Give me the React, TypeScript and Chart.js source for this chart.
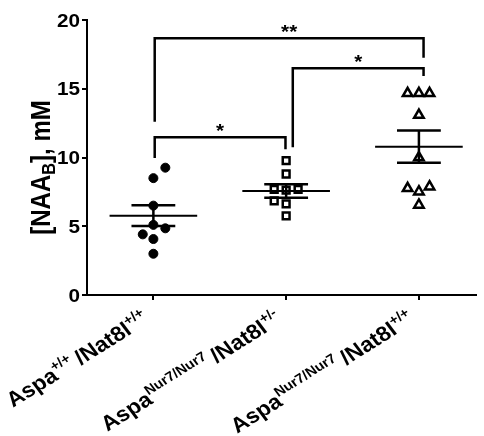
import React, { useEffect, useRef } from 'react';
import { Chart, registerables } from 'chart.js';

Chart.register(...registerables);

// ---------- data ----------
const categories = [1, 2, 3];
const xLabelParts: [string, 'n' | 'sup'][][] = [
  [['Aspa', 'n'], ['+/+', 'sup'], ['\u2009/Nat8l', 'n'], ['+/+', 'sup']],
  [['Aspa', 'n'], ['Nur7/Nur7', 'sup'], ['\u2009/Nat8l', 'n'], ['+/-', 'sup']],
  [['Aspa', 'n'], ['Nur7/Nur7', 'sup'], ['\u2009/Nat8l', 'n'], ['+/+', 'sup']],
];
const g1Values = [9.26, 8.5, 6.5, 5.1, 4.85, 4.41, 4.07, 3.0];
const g1Jitter = [0.09, 0, 0, 0, 0.09, -0.08, 0, 0];
const g2Values = [9.77, 8.8, 7.68, 7.62, 7.68, 6.84, 6.62, 5.75];
const g2Jitter = [0, 0, -0.09, 0, 0.09, -0.09, 0, 0];
const g3Values = [14.67, 14.67, 14.67, 13.09, 10.0, 7.76, 7.51, 7.88, 6.55];
const g3Jitter = [-0.085, 0, 0.08, 0, 0, -0.085, 0, 0.08, 0];
const means = [5.77, 7.56, 10.79];
const sems = [0.76, 0.49, 1.17];
const yTicks = [0, 5, 10, 15, 20];
const bracketFrom = [1.01, 2.05, 1.01];
const bracketTo = [3.035, 3.035, 1.995];
const bracketTop = [18.67, 16.49, 11.47];
const bracketFromEnd = [12.6, 10.74, 9.96];
const bracketToEnd = [17.26, 15.93, 10.6];
const bracketLabels = ['**', '*', '*'];
const yTitleParts: [string, 'n' | 'sub'][] = [['[NAA', 'n'], ['B', 'sub'], ['], mM', 'n']];

// ---------- style ----------
const FONT = '"Liberation Sans", Arial, Helvetica, sans-serif';
const SX = 1.15;

function pts(values: number[], jit: number[], cat: number) {
  return values.map((v, i) => ({ x: cat + jit[i], y: v }));
}

function partFont(kind: string, fs: number, ratio: number) {
  const s = kind === 'n' ? fs : fs * ratio;
  return `bold ${s}px ${FONT}`;
}

function measureRich(ctx: CanvasRenderingContext2D, parts: [string, string][], fs: number, ratio: number) {
  let w = 0;
  for (const [t, k] of parts) {
    ctx.font = partFont(k, fs, ratio);
    w += ctx.measureText(t).width;
  }
  return w;
}

function drawRich(ctx: CanvasRenderingContext2D, parts: [string, string][], fs: number, ratio: number, x0: number) {
  let x = x0;
  ctx.textBaseline = 'alphabetic';
  ctx.textAlign = 'left';
  for (const [t, k] of parts) {
    ctx.font = partFont(k, fs, ratio);
    const dy = k === 'sup' ? -fs * 0.42 : k === 'sub' ? fs * 0.18 : 0;
    ctx.fillText(t, x, dy);
    x += ctx.measureText(t).width;
  }
}

function drawCenteredInk(ctx: CanvasRenderingContext2D, text: string, cx: number, cy: number, font: string, align: 'center' | 'right') {
  ctx.save();
  ctx.font = font;
  ctx.textBaseline = 'alphabetic';
  ctx.textAlign = align;
  const m = ctx.measureText(text);
  const asc = m.actualBoundingBoxAscent;
  const desc = m.actualBoundingBoxDescent;
  ctx.translate(cx, cy + (asc - desc) / 2);
  ctx.scale(SX, 1);
  ctx.fillText(text, 0, 0);
  ctx.restore();
}

const overlay = {
  id: 'overlay',
  afterDatasetsDraw(chart: any) {
    const ctx: CanvasRenderingContext2D = chart.ctx;
    const xs = chart.scales.x;
    const ys = chart.scales.y;
    ctx.save();
    ctx.strokeStyle = '#000';
    ctx.lineCap = 'butt';
    categories.forEach((c, i) => {
      const m = means[i];
      const s = sems[i];
      const ym = ys.getPixelForValue(m);
      const yu = ys.getPixelForValue(m + s);
      const yl = ys.getPixelForValue(m - s);
      ctx.lineWidth = 2;
      ctx.beginPath();
      ctx.moveTo(xs.getPixelForValue(c - 0.33), ym);
      ctx.lineTo(xs.getPixelForValue(c + 0.33), ym);
      ctx.stroke();
      ctx.lineWidth = 2.5;
      ctx.beginPath();
      ctx.moveTo(xs.getPixelForValue(c - 0.165), yu);
      ctx.lineTo(xs.getPixelForValue(c + 0.165), yu);
      ctx.moveTo(xs.getPixelForValue(c - 0.165), yl);
      ctx.lineTo(xs.getPixelForValue(c + 0.165), yl);
      ctx.moveTo(xs.getPixelForValue(c), yu);
      ctx.lineTo(xs.getPixelForValue(c), yl);
      ctx.stroke();
    });
    ctx.restore();
  },
  afterDraw(chart: any) {
    const ctx: CanvasRenderingContext2D = chart.ctx;
    const xs = chart.scales.x;
    const ys = chart.scales.y;
    const area = chart.chartArea;
    ctx.save();
    ctx.fillStyle = '#000';
    ctx.strokeStyle = '#000';

    ctx.lineWidth = 2.5;
    ctx.lineJoin = 'miter';
    bracketLabels.forEach((lab, i) => {
      const x1 = xs.getPixelForValue(bracketFrom[i]);
      const x2 = xs.getPixelForValue(bracketTo[i]);
      const yt = ys.getPixelForValue(bracketTop[i]);
      ctx.beginPath();
      ctx.moveTo(x1, ys.getPixelForValue(bracketFromEnd[i]));
      ctx.lineTo(x1, yt);
      ctx.lineTo(x2, yt);
      ctx.lineTo(x2, ys.getPixelForValue(bracketToEnd[i]));
      ctx.stroke();
      drawCenteredInk(ctx, lab, (x1 + x2) / 2, yt - 10, `bold 18px ${FONT}`, 'center');
    });

    yTicks.forEach((v) => {
      drawCenteredInk(ctx, String(v), area.left - 7, ys.getPixelForValue(v), `bold 18px ${FONT}`, 'right');
    });

    {
      const fs = 24;
      ctx.save();
      ctx.translate(50, (area.top + area.bottom) / 2 + 10);
      ctx.scale(SX, 1);
      ctx.rotate(-Math.PI / 2);
      const w = measureRich(ctx, yTitleParts, fs, 0.68);
      drawRich(ctx, yTitleParts, fs, 0.68, -w / 2);
      ctx.restore();
    }

    const ang = (34.5 * Math.PI) / 180;
    categories.forEach((c, i) => {
      const fs = 21;
      ctx.save();
      ctx.translate(xs.getPixelForValue(c) - 3, area.bottom + 27);
      ctx.scale(1.1, 1);
      ctx.rotate(-ang);
      const w = measureRich(ctx, xLabelParts[i], fs, 0.64);
      drawRich(ctx, xLabelParts[i], fs, 0.64, -w);
      ctx.restore();
    });

    ctx.restore();
  },
};

export default function App() {
  const ref = useRef<HTMLCanvasElement | null>(null);
  useEffect(() => {
    document.body.style.margin = '0';
    const canvas = ref.current!;
    const chart = new Chart(canvas, {
      type: 'scatter',
      data: {
        datasets: [
          {
            data: pts(g1Values, g1Jitter, categories[0]),
            pointStyle: 'circle',
            pointRadius: 4.5,
            backgroundColor: '#000',
            borderColor: '#000',
            borderWidth: 1,
          },
          {
            data: pts(g2Values, g2Jitter, categories[1]),
            pointStyle: 'rect',
            pointRadius: 4.8,
            backgroundColor: '#fff',
            borderColor: '#000',
            borderWidth: 2.5,
          },
          {
            data: pts(g3Values, g3Jitter, categories[2]),
            pointStyle: 'triangle',
            pointRadius: 5.5,
            backgroundColor: '#fff',
            borderColor: '#000',
            borderWidth: 2.5,
          },
        ],
      },
      options: {
        animation: false,
        responsive: false,
        devicePixelRatio: 1,
        layout: { padding: { top: 20, left: 0, right: 0, bottom: 0 } },
        plugins: { legend: { display: false }, tooltip: { enabled: false } },
        scales: {
          x: {
            type: 'linear',
            min: 0.5,
            max: 3.43,
            afterBuildTicks: (s: any) => {
              s.ticks = categories.map((v) => ({ value: v }));
            },
            afterFit: (s: any) => {
              s.height = 141;
            },
            ticks: { display: false },
            grid: { display: true, drawOnChartArea: false, drawTicks: true, tickLength: 5, color: '#000', lineWidth: 2 },
            border: { display: true, color: '#000', width: 2 },
          },
          y: {
            type: 'linear',
            min: 0,
            max: 20,
            afterBuildTicks: (s: any) => {
              s.ticks = yTicks.map((v) => ({ value: v }));
            },
            afterFit: (s: any) => {
              s.width = 87;
            },
            ticks: { display: false },
            grid: { display: true, drawOnChartArea: false, drawTicks: true, tickLength: 5, color: '#000', lineWidth: 2 },
            border: { display: true, color: '#000', width: 2 },
          },
        },
      },
      plugins: [overlay],
    } as any);
    return () => chart.destroy();
  }, []);
  return (
    <div style={{ width: 484, height: 436, background: '#fff' }}>
      <canvas ref={ref} width={484} height={436} />
    </div>
  );
}
